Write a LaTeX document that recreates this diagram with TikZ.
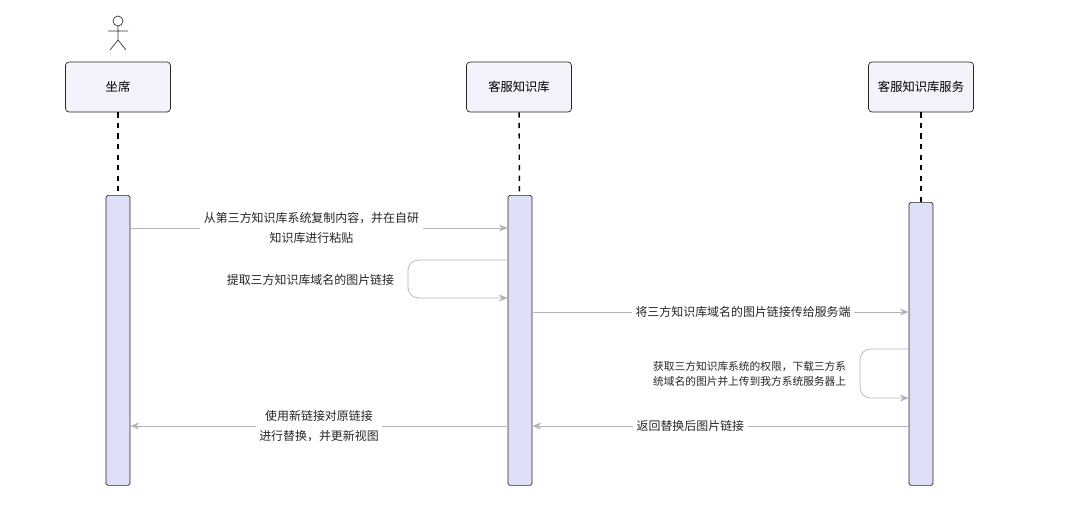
\documentclass[tikz,border=0pt]{standalone}
\usepackage{fontspec}
\newfontfamily\cjk{Noto Sans CJK SC}
\usetikzlibrary{arrows.meta, positioning}
\definecolor{barfill}{HTML}{DCDFF5}
\definecolor{boxfill}{HTML}{F2F3FB}
\definecolor{msgline}{HTML}{B4B4B4}
\tikzstyle{head} = [
    rectangle,
    rounded corners=2pt,
    minimum width=21mm,
    minimum height=10mm,
    draw=black!85,
    fill=boxfill,
    font=\cjk\fontsize{7pt}{8pt}\selectfont
]
\tikzstyle{bar} = [
    rectangle,
    rounded corners=1pt,
    minimum width=4.8mm,
    draw=black!85,
    fill=barfill,
    inner sep=0pt
]
\tikzstyle{msg} = [msgline, -{Stealth[length=5pt,width=4pt]}]
\tikzstyle{txt} = [font=\cjk\fontsize{6.8pt}{11pt}\selectfont, text=black!85, align=center, fill=white, inner sep=2pt]

\begin{document}
\begin{tikzpicture}[x=0.2mm, y=-0.2mm]
\useasboundingbox (0,0) rectangle (1080,527);

% Actor
\draw[black!80] (118,21) circle (5);
\draw[black!80] (118,26) -- (118,40) (108,31) -- (128,31) (118,40) -- (110,50) (118,40) -- (126,50);

% Heads
\node (seat) [head] at (118,87) {坐席};
\node (kb) [head] at (519,87) {客服知识库};
\node (svc) [head] at (921,87) {客服知识库服务};

% Activation bars
\node (seatbar) [bar, minimum height=58mm, anchor=north] at (118,195) {};
\node (kbbar) [bar, minimum height=58mm, anchor=north] at (520,195) {};
\node (svcbar) [bar, minimum height=56.6mm, anchor=north] at (921,202) {};

% Lifelines
\draw[dashed, thick] (seat) -- (seatbar);
\draw[dashed, thick] (kb) -- (kbbar);
\draw[dashed, thick] (svc) -- (svcbar);

% Messages
\draw[msg] (seatbar.east |- 0,228) -- node[txt, pos=0.48] {从第三方知识库系统复制内容，并在自研\\知识库进行粘贴} (kbbar.west |- 0,228);
\draw[msg, rounded corners=6pt] (kbbar.west |- 0,260) -| (408,279) |- (kbbar.west |- 0,298);
\node[txt, anchor=east] at (398,280) {提取三方知识库域名的图片链接};
\draw[msg] (kbbar.east |- 0,312) -- node[txt, pos=0.56] {将三方知识库域名的图片链接传给服务端} (svcbar.west |- 0,312);
\draw[msg, rounded corners=6pt] (svcbar.west |- 0,349) -| (860,373) |- (svcbar.west |- 0,398);
\node[txt, anchor=east, align=left, font=\cjk\fontsize{6.1pt}{9pt}\selectfont] at (850,374) {获取三方知识库系统的权限，下载三方系\\统域名的图片并上传到我方系统服务器上};
\draw[msg] (svcbar.west |- 0,426) -- node[txt, pos=0.58] {返回替换后图片链接} (kbbar.east |- 0,426);
\draw[msg] (kbbar.west |- 0,426) -- node[txt] {使用新链接对原链接\\进行替换，并更新视图} (seatbar.east |- 0,426);

\end{tikzpicture}
\end{document}
